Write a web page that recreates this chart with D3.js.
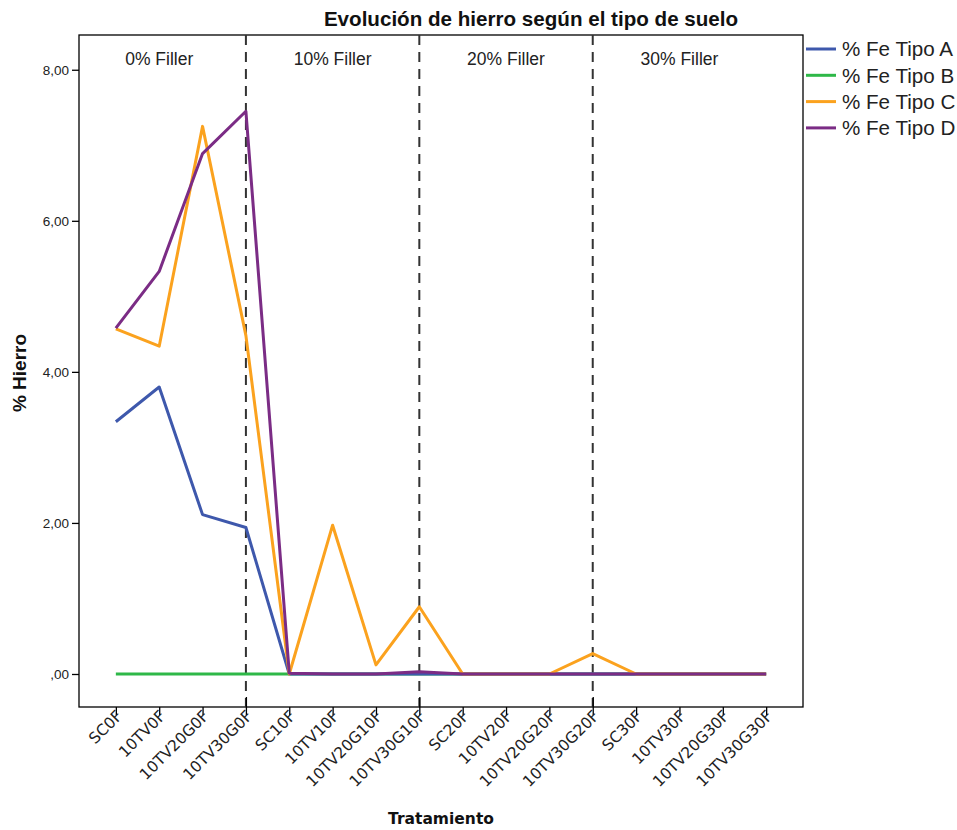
<!DOCTYPE html>
<html><head><meta charset="utf-8">
<script src="https://cdn.jsdelivr.net/npm/d3@7"></script>
<style>body{margin:0;background:#fff}</style>
</head><body>
<script>
const categories = ["SC0F","10TV0F","10TV20G0F","10TV30G0F","SC10F","10TV10F","10TV20G10F","10TV30G10F","SC20F","10TV20F","10TV20G20F","10TV30G20F","SC30F","10TV30F","10TV20G30F","10TV30G30F"];
const tipoA = [3.34,3.80,2.11,1.94,0,0,0,0,0,0,0,0,0,0,0,0];
const tipoB = [0,0,0,0,0,0,0,0,0,0,0,0,0,0,0,0];
const tipoC = [4.57,4.34,7.25,4.48,0,1.97,0.12,0.89,0,0,0,0.27,0,0,0,0];
const tipoD = [4.58,5.33,6.89,7.45,0.01,0,0,0.03,0,0,0,0,0,0,0,0];
const seriesNames = ["% Fe Tipo A","% Fe Tipo B","% Fe Tipo C","% Fe Tipo D"];
const seriesColors = ["#3E58AC","#2EB848","#FBA21E","#7B2C85"];
const yTicks = [0,2,4,6,8];
const yTickLabels = [",00","2,00","4,00","6,00","8,00"];
const groupLabels = ["0% Filler","10% Filler","20% Filler","30% Filler"];
const groupLabelAt = ["10TV0F","10TV10F","10TV20F","10TV30F"];
const dividers = ["10TV30G0F","10TV30G10F","10TV30G20F"];

const W=957,H=830;
const L=79,R=803,T=35,B=707;
const svg=d3.select("body").append("svg").attr("width",W).attr("height",H);

const x=d3.scalePoint().domain(categories).range([L,R]).padding(0.85);
const y=d3.scaleLinear().domain([-0.437,8.46]).range([B,T]);

svg.append("rect").attr("x",L).attr("y",T).attr("width",R-L).attr("height",B-T)
  .attr("fill","none").attr("stroke","#000").attr("stroke-width",1.3);

svg.selectAll(".div").data(dividers).enter().append("line")
  .attr("x1",d=>x(d)).attr("x2",d=>x(d)).attr("y1",T).attr("y2",B)
  .attr("stroke","#333").attr("stroke-width",2).attr("stroke-dasharray","10,7");

svg.selectAll(".gl").data(groupLabels).enter().append("text")
  .attr("x",(d,i)=>x(groupLabelAt[i])).attr("y",65).attr("text-anchor","middle")
  .attr("font-family","Liberation Sans, Arial, sans-serif").attr("font-size",17.5).attr("fill","#222")
  .text(d=>d);

const yAxis=d3.axisLeft(y).tickValues(yTicks).tickFormat((d,i)=>yTickLabels[i]).tickSize(7).tickPadding(3);
const ga=svg.append("g").attr("transform",`translate(${L},0)`).call(yAxis);
ga.select(".domain").remove();
ga.selectAll("line").attr("stroke","#000").attr("stroke-width",1.3);
ga.selectAll("text").attr("font-family","Liberation Sans, Arial, sans-serif").attr("font-size",13.5).attr("fill","#222");

const xAxis=d3.axisBottom(x).tickSize(8).tickPadding(4);
const gx=svg.append("g").attr("transform",`translate(0,${B})`).call(xAxis);
gx.select(".domain").remove();
gx.selectAll("line").attr("stroke","#000").attr("stroke-width",1.3)
  .attr("y1",d=>dividers.includes(d)?-10:0);
gx.selectAll("text").attr("font-family","DejaVu Sans, sans-serif").attr("font-size",15.5).attr("fill","#222")
  .attr("text-anchor","end").attr("dy","0.35em")
  .attr("transform","translate(3,6) rotate(-45)").attr("x",0).attr("y",0);

const allSeries=[tipoA,tipoB,tipoC,tipoD];
const line=d3.line().x((d,i)=>x(categories[i])).y(d=>y(d));
[1,0,2,3].forEach(k=>{
  svg.append("path").datum(allSeries[k]).attr("d",line)
    .attr("fill","none").attr("stroke",seriesColors[k]).attr("stroke-width",3).attr("stroke-linejoin","round");
});

svg.append("text").attr("x",531).attr("y",26).attr("text-anchor","middle")
  .attr("font-family","Liberation Sans, Arial, sans-serif").attr("font-weight","bold").attr("font-size",20.6).attr("fill","#111")
  .text("Evolución de hierro según el tipo de suelo");

svg.append("text").attr("transform","translate(26,373) rotate(-90)").attr("text-anchor","middle")
  .attr("font-family","Liberation Sans, Arial, sans-serif").attr("font-weight","bold").attr("font-size",19).attr("fill","#111")
  .text("% Hierro");
svg.append("text").attr("x",441).attr("y",824).attr("text-anchor","middle")
  .attr("font-family","DejaVu Sans, sans-serif").attr("font-weight","bold").attr("font-size",15.5).attr("fill","#111")
  .text("Tratamiento");

const lg=svg.append("g");
seriesNames.forEach((n,i)=>{
  const yy=49+i*26.3;
  lg.append("line").attr("x1",806).attr("x2",836).attr("y1",yy).attr("y2",yy)
    .attr("stroke",seriesColors[i]).attr("stroke-width",3);
  lg.append("text").attr("x",842).attr("y",yy).attr("dy","0.36em")
    .attr("font-family","Liberation Sans, Arial, sans-serif").attr("font-size",20.6).attr("fill","#222").text(n);
});
</script>
</body></html>
